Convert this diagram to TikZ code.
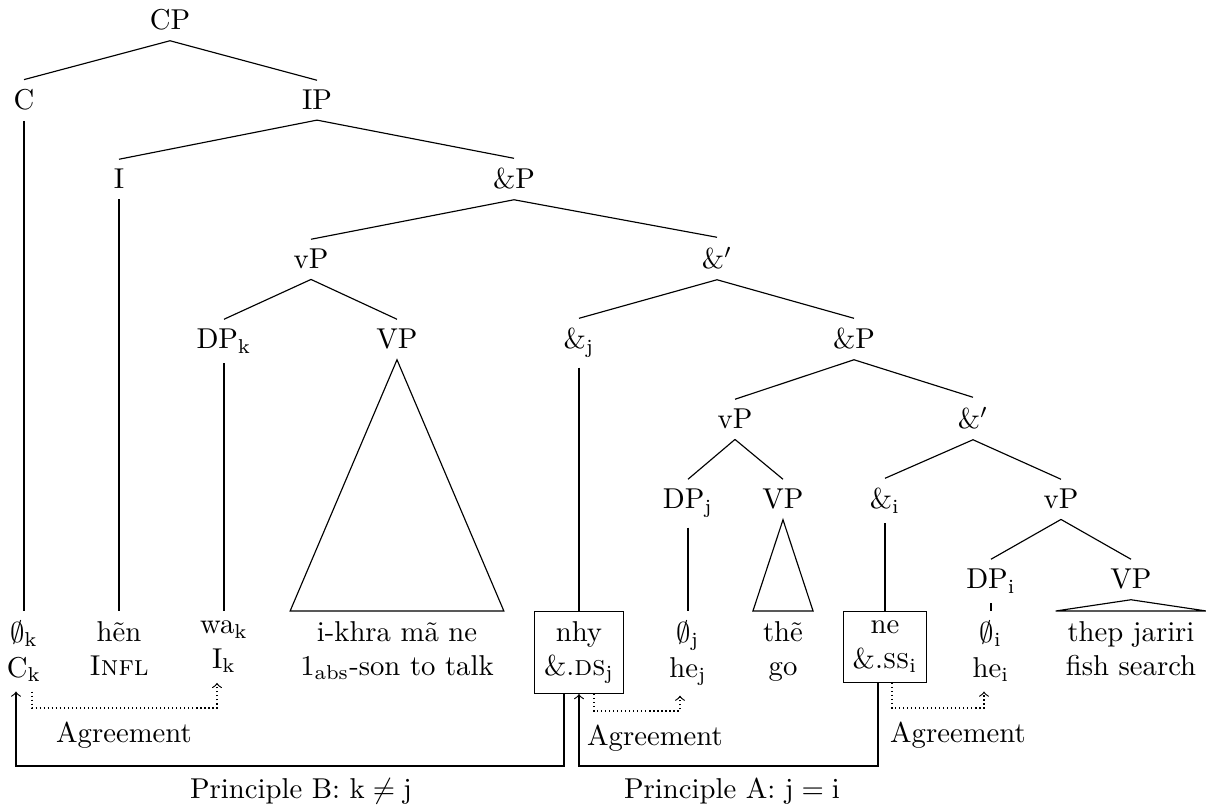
\documentclass[tikz,border=0pt]{standalone}
\usetikzlibrary{calc}
\newcommand{\sbs}[1]{\textsubscript{#1}}
\begin{document}
\begin{tikzpicture}[x=0.3484pt,y=-0.3484pt,
  cat/.style={anchor=base,inner sep=3.33pt},
  leaf/.style={anchor=north,align=center,inner sep=3.33pt},
  boxleaf/.style={leaf,draw},
  bind/.style={->,>=to},
  agree/.style={->,>=to,densely dotted},
  lbl/.style={anchor=base}]
\useasboundingbox (0,0) rectangle (1206,806);

% phrase-structure nodes (x, baseline)
\node[cat] (CP)  at (170,30)  {CP};
\node[cat] (C)   at (24,110)  {C};
\node[cat] (IP)  at (317,110) {IP};
\node[cat] (I)   at (119,189) {I};
\node[cat] (andPa) at (514,189) {\&P};
\node[cat] (vPa) at (311,269) {vP};
\node[cat] (andBa) at (717,269) {\&$'$};
\node[cat] (DPk) at (224,349) {DP\sbs{k}};
\node[cat] (VPa) at (397,349) {VP};
\node[cat] (andj) at (579,349) {\&\sbs{j}};
\node[cat] (andPb) at (854,349) {\&P};
\node[cat] (vPb) at (735,429) {vP};
\node[cat] (andBb) at (973,429) {\&$'$};
\node[cat] (DPj) at (688,509) {DP\sbs{j}};
\node[cat] (VPb) at (783,509) {VP};
\node[cat] (andi) at (885,509) {\&\sbs{i}};
\node[cat] (vPc) at (1061,509) {vP};
\node[cat] (DPi) at (991,589) {DP\sbs{i}};
\node[cat] (VPc) at (1131,589) {VP};

% terminal strings with glosses
\node[leaf] (Ck)   at (24,611)   {$\emptyset$\sbs{k}\\C\sbs{k}};
\node[leaf] (infl) at (119,611)  {h\~en\\\textsc{Infl}};
\node[leaf] (Ik)   at (224,611)  {wa\sbs{k}\\I\sbs{k}};
\node[leaf] (talk) at (397,611)  {i-khra m\~a ne\\1\sbs{abs}-son to talk};
\node[boxleaf] (nhy) at (579,611) {nhy\\\&.\textsc{ds}\sbs{j}};
\node[leaf] (hej)  at (688,611)  {$\emptyset$\sbs{j}\\he\sbs{j}};
\node[leaf] (go)   at (783,611)  {th\~e\\go};
\node[boxleaf] (ne) at (885,611) {ne\\\&.\textsc{ss}\sbs{i}};
\node[leaf] (hei)  at (991,611)  {$\emptyset$\sbs{i}\\he\sbs{i}};
\node[leaf] (fish) at (1131,611) {thep jariri\\fish search};

% branches
\draw (CP.south) -- (C.north);
\draw (CP.south) -- (IP.north);
\draw (IP.south) -- (I.north);
\draw (IP.south) -- (andPa.north);
\draw (andPa.south) -- (vPa.north);
\draw (andPa.south) -- (andBa.north);
\draw (vPa.south) -- (DPk.north);
\draw (vPa.south) -- (VPa.north);
\draw (andBa.south) -- (andj.north);
\draw (andBa.south) -- (andPb.north);
\draw (andPb.south) -- (vPb.north);
\draw (andPb.south) -- (andBb.north);
\draw (vPb.south) -- (DPj.north);
\draw (vPb.south) -- (VPb.north);
\draw (andBb.south) -- (andi.north);
\draw (andBb.south) -- (vPc.north);
\draw (vPc.south) -- (DPi.north);
\draw (vPc.south) -- (VPc.north);

% unary branches down to the terminals
\draw (C.south) -- (Ck.north);
\draw (I.south) -- (infl.north);
\draw (DPk.south) -- (Ik.north);
\draw (andj.south) -- (nhy.north);
\draw (DPj.south) -- (hej.north);
\draw (andi.south) -- (ne.north);
\draw (DPi.south) -- (hei.north);

% roofs over unanalysed VPs
\draw (VPa.south) -- (talk.north west) -- (talk.north east) -- cycle;
\draw (VPb.south) -- (go.north west) -- (go.north east) -- cycle;
\draw (VPc.south) -- (fish.north west) -- (fish.north east) -- cycle;

% routing levels
\coordinate (lvlP) at (0,766);
\coordinate (lvlL) at (0,708);
\coordinate (lvlM) at (0,711);
\coordinate (lvlR) at (0,708);

% binding relations
\coordinate (bS) at ($(nhy.south)+(-15,0)$);
\coordinate (bE) at ($(Ck.south)+(-8,0)$);
\draw[bind] (bS) -- (bS |- lvlP) -- (bE |- lvlP) -- (bE);
\coordinate (aS) at ($(ne.south)+(-7,0)$);
\draw[bind] (aS) -- (aS |- lvlP) -- (nhy.south |- lvlP) -- (nhy.south);

% agreement relations
\coordinate (gL1) at ($(Ck.south)+(8,0)$);
\coordinate (gL2) at ($(Ik.south)+(-7,0)$);
\draw[agree] (gL1) -- (gL1 |- lvlL) -- (gL2 |- lvlL) -- (gL2);
\coordinate (gM1) at ($(nhy.south)+(15,0)$);
\coordinate (gM2) at ($(hej.south)+(-8,0)$);
\draw[agree] (gM1) -- (gM1 |- lvlM) -- (gM2 |- lvlM) -- (gM2);
\coordinate (gR1) at ($(ne.south)+(7,0)$);
\coordinate (gR2) at ($(hei.south)+(-7,0)$);
\draw[agree] (gR1) -- (gR1 |- lvlR) -- (gR2 |- lvlR) -- (gR2);

% relation labels
\node[lbl] (agrL) at (124,743) {Agreement};
\node[lbl] (agrM) at (655,746) {Agreement};
\node[lbl] (agrR) at (958,743) {Agreement};
\node[lbl] (prB) at (301,799) {Principle B: $\mathrm{k}\neq\mathrm{j}$};
\node[lbl] (prA) at (732,799) {Principle A: $\mathrm{j}=\mathrm{i}$};
\end{tikzpicture}
\end{document}
